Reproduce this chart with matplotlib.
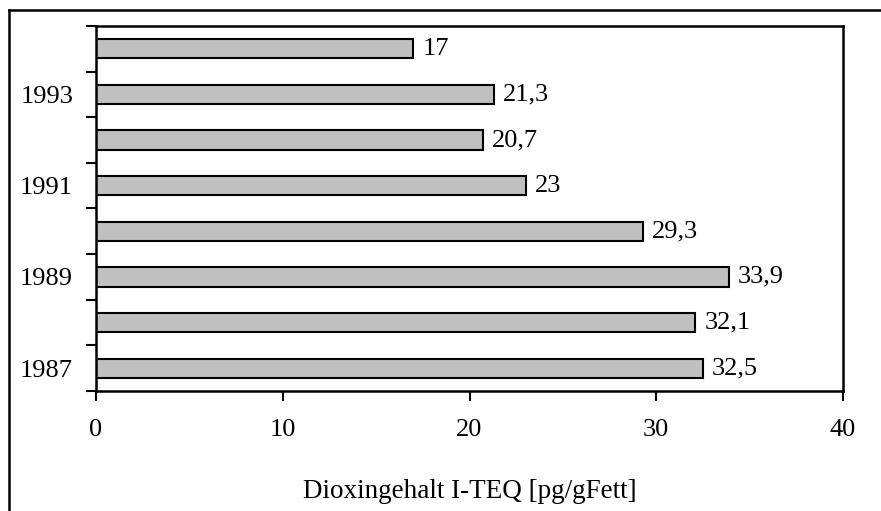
import matplotlib
matplotlib.use("Agg")
import matplotlib.pyplot as plt
from matplotlib.lines import Line2D

plt.rcParams['font.family'] = ['Liberation Serif', 'DejaVu Serif']

years = [1987, 1988, 1989, 1990, 1991, 1992, 1993, 1994]
values = [32.5, 32.1, 33.9, 29.3, 23.0, 20.7, 21.3, 17.0]
value_labels = ["32,5", "32,1", "33,9", "29,3", "23", "20,7", "21,3", "17"]
labelled_years = [1987, 1989, 1991, 1993]
x_ticks = [0, 10, 20, 30, 40]
x_label = "Dioxingehalt I-TEQ [pg/gFett]"

FS = 19
W, H = 881, 511
fig = plt.figure(figsize=(W / 100, H / 100), dpi=100)
ax = fig.add_axes([96 / W, 1 - 391 / H, (843 - 96) / W, (391 - 26) / H])

pos = list(range(len(years)))
ax.barh(pos, values, height=0.42, color='#c0c0c0', edgecolor='black', linewidth=1.5)

for p, v, t in zip(pos, values, value_labels):
    ax.annotate(t, xy=(v, p), xytext=(6.5, 0), textcoords='offset points',
                va='center', ha='left', fontsize=FS)

ax.set_xlim(0, 40)
ax.set_ylim(-0.5, len(years) - 0.5)

# category boundaries carry the ticks, centres carry the year labels
ax.set_yticks([i - 0.5 for i in range(len(years) + 1)])
ax.set_yticklabels([])
ax.set_yticks([years.index(y) for y in labelled_years], minor=True)
ax.set_yticklabels([str(y) for y in labelled_years], minor=True, fontsize=FS)
ax.tick_params(axis='y', which='major', direction='out', length=7, width=1.5)
ax.tick_params(axis='y', which='minor', length=0, pad=16.5)

ax.set_xticks(x_ticks)
ax.set_xticklabels([str(t) for t in x_ticks], fontsize=FS)
ax.tick_params(axis='x', direction='out', length=7, width=1.5, pad=13)

for s in ax.spines.values():
    s.set_linewidth(1.8)

fig.text((96 + 843) / 2 / W, 1 - 492 / H, x_label, ha='center', va='center', fontsize=FS + 0.5)

# outer frame (left and top edges)
fig.add_artist(Line2D([9 / W, 9 / W], [0, 1 - 10 / H], color='black', linewidth=1.8,
                      transform=fig.transFigure))
fig.add_artist(Line2D([9 / W, 1], [1 - 10 / H, 1 - 10 / H], color='black', linewidth=1.8,
                      transform=fig.transFigure))

fig.savefig("out.png", dpi=100, facecolor='white')
